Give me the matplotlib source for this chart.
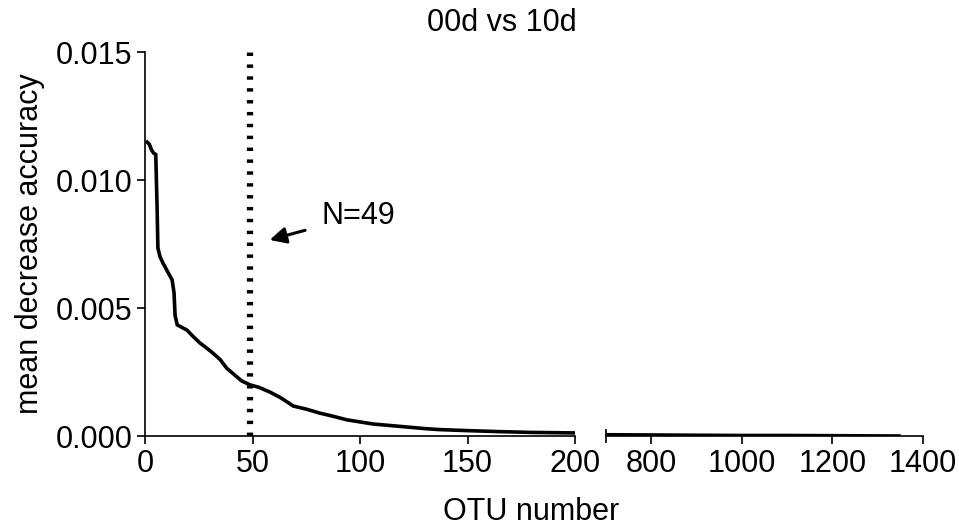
import matplotlib.pyplot as plt

plt.rcParams['font.family'] = ['Liberation Sans', 'DejaVu Sans']

# OTU rank and mean decrease accuracy
otu = [1, 2, 3, 4, 5, 5.6, 6, 7, 8.4, 10, 12.6, 13.5, 14, 15, 17, 19.5, 22, 25.6, 28,
       31.7, 35, 38, 42.6, 45, 48.8, 53, 58, 63, 69, 75, 81, 88, 94, 100, 106, 114,
       122, 130, 137, 150, 165, 180, 200, 700, 800, 900, 1000, 1100, 1230, 1347]
mda = [0.01148, 0.01140, 0.01118, 0.01105, 0.01100, 0.0090, 0.00734, 0.00700, 0.00675,
       0.00650, 0.00610, 0.00560, 0.00470, 0.00434, 0.00425, 0.00414, 0.00392, 0.00363,
       0.00348, 0.00323, 0.00298, 0.00265, 0.00232, 0.00215, 0.00200, 0.00190, 0.00172,
       0.00150, 0.00117, 0.00105, 0.00090, 0.00076, 0.00063, 0.00055, 0.00047, 0.00041,
       0.00035, 0.00029, 0.00025, 0.00021, 0.00017, 0.00014, 0.00012, 0.00005, 0.00004,
       0.00003, 0.00002, 0.00002, 0.00001, 0.00000]

cutoff = 49
left_ticks = [0, 50, 100, 150, 200]
right_ticks = [800, 1000, 1200, 1400]
y_ticks = [0.000, 0.005, 0.010, 0.015]

fs = 22
fig = plt.figure(figsize=(9.59, 5.26), dpi=100)
ax1 = fig.add_axes([0.1512, 0.1711, 0.4484, 0.730])
ax2 = fig.add_axes([0.6319, 0.1711, 0.3306, 0.730])

for ax in (ax1, ax2):
    ax.plot(otu, mda, color='black', lw=2.6, solid_joinstyle='miter')
    ax.set_ylim(0, 0.015)
    for s in ('top', 'right'):
        ax.spines[s].set_visible(False)
    for s in ('left', 'bottom'):
        ax.spines[s].set_linewidth(1.2)
    ax.tick_params(direction='out', length=6, width=1.2, labelsize=fs, pad=3)

ax1.set_xlim(0, 200)
ax1.set_xticks(left_ticks)
ax1.set_yticks(y_ticks)
ax1.set_yticklabels([f'{v:.3f}' for v in y_ticks])
ax1.axvline(cutoff, ymin=0, ymax=1, color='black', lw=4.5, linestyle=(0, (0.55, 1.35)))
ax1.set_ylabel('mean decrease accuracy', fontsize=fs, labelpad=8)
ax1.annotate('N=49', xy=(58, 0.00766), xytext=(82, 0.00860), fontsize=fs,
             va='center', ha='left',
             arrowprops=dict(arrowstyle='-|>,head_length=0.7,head_width=0.35',
                             color='black', lw=2.2, mutation_scale=14,
                             shrinkA=10, shrinkB=0))

ax2.set_xlim(700, 1400)
ax2.set_xticks(right_ticks)
ax2.set_xticks([700], minor=True)
ax2.tick_params(which='minor', direction='inout', length=10, width=1.2)
ax2.spines['left'].set_visible(False)
ax2.set_yticks([])

fig.text(0.523, 0.957, '00d vs 10d', ha='center', va='center', fontsize=fs)
fig.text(0.554, 0.026, 'OTU number', ha='center', va='center', fontsize=fs)

fig.savefig('out.png', dpi=100)
